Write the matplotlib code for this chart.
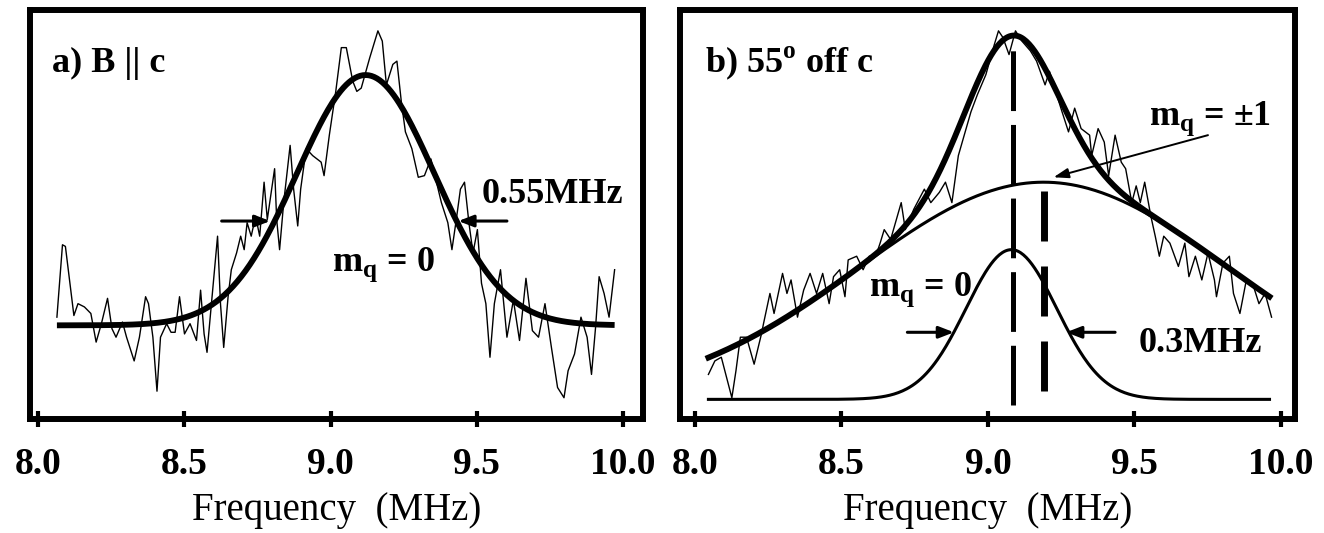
import numpy as np
import matplotlib
matplotlib.use("Agg")
import matplotlib.pyplot as plt

plt.rcParams['font.family'] = ['Liberation Serif', 'DejaVu Serif']
plt.rcParams['mathtext.fontset'] = 'custom'
plt.rcParams['mathtext.rm'] = 'Liberation Serif:bold'
plt.rcParams['mathtext.bf'] = 'Liberation Serif:bold'
plt.rcParams['lines.scale_dashes'] = False

# ---------------- data: panel a ----------------
freq_a = [8.065, 8.084, 8.094, 8.123, 8.137, 8.159, 8.181, 8.199, 8.217, 8.238,
          8.253, 8.267, 8.289, 8.303, 8.329, 8.347, 8.368, 8.378, 8.393, 8.407,
          8.419, 8.440, 8.455, 8.469, 8.484, 8.501, 8.520, 8.542, 8.556, 8.568,
          8.578, 8.614, 8.624, 8.635, 8.650, 8.661, 8.679, 8.693, 8.705, 8.715,
          8.729, 8.744, 8.758, 8.773, 8.784, 8.809, 8.816, 8.826, 8.840, 8.862,
          8.874, 8.888, 8.898, 8.917, 8.939, 8.968, 8.978, 8.996, 9.018, 9.037,
          9.054, 9.076, 9.090, 9.105, 9.134, 9.162, 9.177, 9.191, 9.213, 9.227,
          9.242, 9.256, 9.278, 9.300, 9.321, 9.343, 9.379, 9.401, 9.415, 9.430,
          9.444, 9.458, 9.473, 9.487, 9.502, 9.516, 9.531, 9.545, 9.560, 9.581,
          9.603, 9.625, 9.646, 9.668, 9.690, 9.711, 9.733, 9.755, 9.776, 9.798,
          9.812, 9.834, 9.856, 9.877, 9.892, 9.906, 9.918, 9.935, 9.952, 9.971]
signal_a = [0.249, 0.426, 0.422, 0.253, 0.282, 0.274, 0.258, 0.188, 0.233, 0.295,
            0.221, 0.200, 0.237, 0.200, 0.142, 0.200, 0.299, 0.282, 0.200, 0.068,
            0.200, 0.233, 0.212, 0.212, 0.299, 0.208, 0.233, 0.192, 0.315, 0.208,
            0.163, 0.447, 0.282, 0.175, 0.299, 0.365, 0.406, 0.447, 0.414, 0.480,
            0.447, 0.496, 0.447, 0.579, 0.488, 0.612, 0.488, 0.414, 0.529, 0.669,
            0.562, 0.472, 0.562, 0.661, 0.644, 0.628, 0.595, 0.694, 0.801, 0.908,
            0.908, 0.826, 0.801, 0.809, 0.883, 0.949, 0.924, 0.817, 0.867, 0.875,
            0.776, 0.702, 0.661, 0.591, 0.595, 0.636, 0.529, 0.480, 0.414, 0.488,
            0.562, 0.579, 0.480, 0.406, 0.463, 0.332, 0.282, 0.151, 0.282, 0.365,
            0.200, 0.291, 0.192, 0.344, 0.216, 0.200, 0.282, 0.175, 0.077, 0.052,
            0.118, 0.159, 0.249, 0.200, 0.109, 0.225, 0.348, 0.307, 0.249, 0.365]

# Gaussian fit, panel a (m_q = 0)
fit_a_range = [8.065, 9.971]
fit_a_center = 9.12
fit_a_sigma = 0.235
fit_a_amp = 0.612
fit_a_base = 0.229

# ---------------- data: panel b ----------------
freq_b = [8.046, 8.068, 8.090, 8.126, 8.140, 8.155, 8.176, 8.202, 8.227, 8.234,
          8.256, 8.270, 8.299, 8.314, 8.328, 8.350, 8.371, 8.393, 8.415, 8.436,
          8.458, 8.473, 8.494, 8.512, 8.523, 8.552, 8.574, 8.595, 8.617, 8.632,
          8.646, 8.668, 8.704, 8.718, 8.747, 8.783, 8.805, 8.834, 8.855, 8.877,
          8.899, 8.942, 8.964, 8.993, 9.022, 9.036, 9.051, 9.072, 9.094, 9.116,
          9.145, 9.166, 9.195, 9.210, 9.231, 9.253, 9.275, 9.296, 9.318, 9.347,
          9.354, 9.376, 9.397, 9.412, 9.434, 9.455, 9.470, 9.491, 9.506, 9.520,
          9.535, 9.556, 9.571, 9.585, 9.600, 9.621, 9.650, 9.672, 9.686, 9.708,
          9.730, 9.751, 9.773, 9.780, 9.802, 9.824, 9.838, 9.860, 9.882, 9.903,
          9.925, 9.946, 9.968]
signal_b = [0.109, 0.142, 0.151, 0.052, 0.118, 0.200, 0.200, 0.134, 0.208, 0.233,
            0.307, 0.258, 0.356, 0.307, 0.340, 0.249, 0.315, 0.356, 0.307, 0.356,
            0.282, 0.348, 0.365, 0.299, 0.389, 0.398, 0.365, 0.398, 0.398, 0.430,
            0.463, 0.439, 0.529, 0.463, 0.513, 0.562, 0.529, 0.554, 0.579, 0.529,
            0.644, 0.751, 0.793, 0.842, 0.916, 0.949, 0.933, 0.891, 0.949, 0.924,
            0.900, 0.875, 0.817, 0.850, 0.801, 0.751, 0.702, 0.760, 0.710, 0.694,
            0.644, 0.710, 0.677, 0.595, 0.694, 0.628, 0.612, 0.529, 0.570, 0.529,
            0.579, 0.496, 0.447, 0.398, 0.447, 0.430, 0.373, 0.430, 0.348, 0.398,
            0.340, 0.406, 0.340, 0.299, 0.381, 0.398, 0.307, 0.258, 0.340, 0.332,
            0.282, 0.307, 0.249]

# two-Gaussian fit, panel b
fit_b_range = [8.046, 9.961]
fit_b_base = 0.048
narrow_center, narrow_sigma, narrow_amp = 9.08, 0.155, 0.366   # m_q = 0
broad_center, broad_sigma, broad_amp = 9.19, 0.63, 0.531       # m_q = +-1

xticks = [8.0, 8.5, 9.0, 9.5, 10.0]
xticklabels = ["8.0", "8.5", "9.0", "9.5", "10.0"]


def gauss(x, c, s, a):
    return a * np.exp(-(x - c) ** 2 / (2 * s ** 2))


W, H = 1324, 533
fig = plt.figure(figsize=(W / 100, H / 100), dpi=100)
ax_a = fig.add_axes([30 / W, 1 - 419 / H, 613 / W, 409 / H])
ax_b = fig.add_axes([680 / W, 1 - 419 / H, 615 / W, 409 / H])


def style(ax, xlim):
    ax.set_xlim(*xlim)
    ax.set_ylim(0, 1)
    ax.set_yticks([])
    for s in ax.spines.values():
        s.set_linewidth(4.3)
    ax.set_xticks(xticks)
    ax.set_xticklabels(xticklabels, fontsize=27, fontweight='bold')
    ax.tick_params(axis='x', direction='inout', length=11, width=3, pad=15)
    ax.set_xlabel("Frequency  (MHz)", fontsize=28, labelpad=7)


style(ax_a, (7.973, 10.068))
style(ax_b, (7.949, 10.048))

tfs = 26

# ---- panel a ----
ax_a.plot(freq_a, signal_a, color='black', lw=1.0)
xa = np.linspace(fit_a_range[0], fit_a_range[1], 400)
ax_a.plot(xa, fit_a_base + gauss(xa, fit_a_center, fit_a_sigma, fit_a_amp),
          color='black', lw=4.2, solid_capstyle='butt')
ax_a.text(0.036, 0.87, "a) B || c", transform=ax_a.transAxes, fontsize=tfs,
          fontweight='bold', va='center', ha='left')
ax_a.text(9.516, 0.55, "0.55MHz", fontsize=tfs, fontweight='bold', va='center', ha='left')
ax_a.text(9.004, 0.377, r"m$_{\mathrm{q}}$ = 0", fontsize=tfs, fontweight='bold',
          va='center', ha='left')
arrow_kw = dict(arrowstyle='-|>,head_length=0.9,head_width=0.35', color='black', lw=2.2,
                shrinkA=0, shrinkB=0)
ax_a.annotate("", xy=(8.794, 0.484), xytext=(8.628, 0.484), arrowprops=arrow_kw)
ax_a.annotate("", xy=(9.437, 0.484), xytext=(9.603, 0.484), arrowprops=arrow_kw)

# ---- panel b ----
ax_b.plot(freq_b, signal_b, color='black', lw=1.0)
xb = np.linspace(fit_b_range[0], fit_b_range[1], 400)
narrow = gauss(xb, narrow_center, narrow_sigma, narrow_amp)
broad = gauss(xb, broad_center, broad_sigma, broad_amp)
ax_b.plot(xb, fit_b_base + narrow, color='black', lw=2.2)
ax_b.plot(xb, fit_b_base + broad, color='black', lw=2.2)
ax_b.plot(xb, fit_b_base + narrow + broad, color='black', lw=4.2)

ax_b.plot([narrow_center + 0.007] * 2, [0.035, 0.94], color='black', lw=3.6,
          dashes=(43, 10))
ax_b.plot([broad_center] * 2, [0.068, 0.579], color='black', lw=5.0,
          dashes=(36, 18))

ax_b.text(0.04, 0.87, r"b) 55$^{\mathrm{o}}$ off c", transform=ax_b.transAxes,
          fontsize=tfs, fontweight='bold', va='center', ha='left')
ax_b.text(9.549, 0.735, r"m$_{\mathrm{q}}$ = ±1", fontsize=tfs, fontweight='bold',
          va='center', ha='left')
ax_b.text(8.595, 0.315, r"m$_{\mathrm{q}}$ = 0", fontsize=tfs, fontweight='bold',
          va='center', ha='left')
ax_b.text(9.513, 0.184, "0.3MHz", fontsize=tfs, fontweight='bold', va='center', ha='left')
ax_b.annotate("", xy=(8.884, 0.212), xytext=(8.725, 0.212), arrowprops=arrow_kw)
ax_b.annotate("", xy=(9.267, 0.212), xytext=(9.434, 0.212), arrowprops=arrow_kw)
thin_kw = dict(arrowstyle='-|>,head_length=0.9,head_width=0.3', color='black', lw=1.4,
               shrinkA=0, shrinkB=0)
ax_b.annotate("", xy=(9.224, 0.591), xytext=(9.751, 0.694), arrowprops=thin_kw)

fig.savefig("out.png", dpi=100)
